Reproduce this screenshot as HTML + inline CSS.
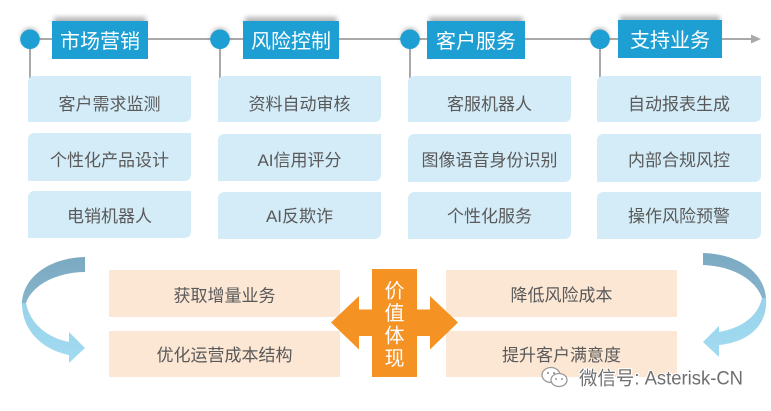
<!DOCTYPE html>
<html><head><meta charset="utf-8">
<style>
html,body{margin:0;padding:0;background:#fff;}
svg{display:block;}
text{font-family:"Liberation Sans","Noto Sans CJK SC",sans-serif;}
</style></head>
<body>
<svg width="771" height="411" viewBox="0 0 771 411" xmlns="http://www.w3.org/2000/svg">
<defs>
<filter id="blur" x="-20%" y="-100%" width="140%" height="300%"><feGaussianBlur stdDeviation="2.5"/></filter>
<linearGradient id="gd" x1="0" y1="0" x2="0" y2="1"><stop offset="0" stop-color="#7aa9c2"/><stop offset="1" stop-color="#86b4ca"/></linearGradient>
<linearGradient id="gl" x1="0" y1="0" x2="0" y2="1"><stop offset="0" stop-color="#98d3ea"/><stop offset="1" stop-color="#a2dbf1"/></linearGradient>
</defs>
<rect width="771" height="411" fill="#fff"/>

<!-- timeline -->
<line x1="30" y1="39" x2="754" y2="39" stroke="#a9a9a9" stroke-width="2"/>
<polygon points="751,34.5 761,39 751,43.5" fill="#a9a9a9"/>

<!-- vertical connectors -->
<g stroke="#a9a9a9" stroke-width="2">
<line x1="30" y1="39" x2="30" y2="80"/>
<line x1="220" y1="39" x2="220" y2="80"/>
<line x1="410" y1="39" x2="410" y2="80"/>
<line x1="600" y1="39" x2="600" y2="80"/>
</g>

<!-- shadows -->
<g fill="#000" opacity="0.28" filter="url(#blur)">
<rect x="54" y="17" width="92" height="10"/>
<rect x="245" y="17" width="92" height="10"/>
<rect x="429" y="17" width="94" height="10"/>
<rect x="620" y="16" width="100" height="10"/>
<circle cx="30" cy="37" r="9"/>
<circle cx="220" cy="37" r="9"/>
<circle cx="410" cy="37" r="9"/>
<circle cx="600" cy="37" r="9"/>
</g>

<!-- circles -->
<g fill="#1e9fd4">
<circle cx="30" cy="39.3" r="9.8"/>
<circle cx="220" cy="39.3" r="9.8"/>
<circle cx="410" cy="39.3" r="9.8"/>
<circle cx="600" cy="39.3" r="9.8"/>
</g>

<!-- title boxes -->
<g fill="#1e9fd4">
<rect x="52" y="21" width="96" height="38"/>
<rect x="243" y="21" width="96" height="38"/>
<rect x="427" y="21" width="98" height="38"/>
<rect x="618" y="20" width="104" height="38"/>
</g>
<g fill="#fff" font-size="20" text-anchor="middle">
<text x="100" y="48">市场营销</text>
<text x="291" y="48">风险控制</text>
<text x="476" y="48">客户服务</text>
<text x="670" y="47">支持业务</text>
</g>

<!-- detail boxes -->
<g fill="#d3ecf8">
<path d="M35,76 L191,76 L191,115 Q191,122 184,122 L28,122 L28,83 Q28,76 35,76 Z"/>
<path d="M35,133 L191,133 L191,174 Q191,181 184,181 L28,181 L28,140 Q28,133 35,133 Z"/>
<path d="M35,191 L191,191 L191,231 Q191,238 184,238 L28,238 L28,198 Q28,191 35,191 Z"/>

<path d="M225,76 L381,76 L381,115 Q381,122 374,122 L218,122 L218,83 Q218,76 225,76 Z"/>
<path d="M225,134 L381,134 L381,174 Q381,181 374,181 L218,181 L218,141 Q218,134 225,134 Z"/>
<path d="M225,192 L381,192 L381,232 Q381,239 374,239 L218,239 L218,199 Q218,192 225,192 Z"/>

<path d="M415,76 L571,76 L571,115 Q571,122 564,122 L408,122 L408,83 Q408,76 415,76 Z"/>
<path d="M415,134 L571,134 L571,175 Q571,182 564,182 L408,182 L408,141 Q408,134 415,134 Z"/>
<path d="M415,192 L571,192 L571,232 Q571,239 564,239 L408,239 L408,199 Q408,192 415,192 Z"/>

<path d="M604,76 L761,76 L761,115 Q761,122 754,122 L597,122 L597,83 Q597,76 604,76 Z"/>
<path d="M604,134 L761,134 L761,175 Q761,182 754,182 L597,182 L597,141 Q597,134 604,134 Z"/>
<path d="M604,192 L761,192 L761,232 Q761,239 754,239 L597,239 L597,199 Q597,192 604,192 Z"/>
</g>
<g fill="#595959" font-size="17" text-anchor="middle">
<text x="109.5" y="110">客户需求监测</text>
<text x="109.5" y="166">个性化产品设计</text>
<text x="109.5" y="222">电销机器人</text>

<text x="299.5" y="110">资料自动审核</text>
<text x="299.5" y="166">AI信用评分</text>
<text x="299.5" y="222">AI反欺诈</text>

<text x="489.5" y="110">客服机器人</text>
<text x="489.5" y="166">图像语音身份识别</text>
<text x="489.5" y="222">个性化服务</text>

<text x="679" y="110">自动报表生成</text>
<text x="679" y="166">内部合规风控</text>
<text x="679" y="222">操作风险预警</text>
</g>

<!-- peach boxes -->
<g fill="#fce6d4">
<rect x="109" y="270" width="231" height="47"/>
<rect x="109" y="331" width="231" height="46"/>
<rect x="446" y="270" width="231" height="47"/>
<rect x="446" y="331" width="231" height="46"/>
</g>
<g fill="#595959" font-size="17" text-anchor="middle">
<text x="224.5" y="301.5">获取增量业务</text>
<text x="224.5" y="361">优化运营成本结构</text>
<text x="561.5" y="301">降低风险成本</text>
<text x="561.5" y="361">提升客户满意度</text>
</g>

<!-- orange center -->
<g fill="#f49224">
<rect x="372" y="269" width="45" height="108"/>
<path d="M331,322.5 L359,296 L359,309.5 L430,309.5 L430,296 L458,322.5 L430,349.5 L430,336 L359,336 L359,349.5 Z"/>
</g>
<g fill="#fff" font-size="20" text-anchor="middle">
<text x="394.5" y="297.5">价</text>
<text x="394.5" y="320">值</text>
<text x="394.5" y="342.5">体</text>
<text x="394.5" y="365">现</text>
</g>

<!-- left curved arrow -->
<path d="M85,257 C48,258 23,278 22,303 L26,303 C32,285 57,272 85,272 Z" fill="url(#gd)"/>
<path d="M22,303 C22,332 44,350 69,355 L69,363 L85,348 L69,332 L69,342 C48,338 30,324 26,303 Z" fill="url(#gl)"/>

<!-- right curved arrow -->
<path d="M703,253 C738,254 764,272 766,298 L762,298 C756,280 733,266 703,265 Z" fill="url(#gd)"/>
<path d="M766,298 C768,326 748,342 719,345 L719,357 L703,342 L719,326 L719,332 C742,328 758,316 762,298 Z" fill="url(#gl)"/>

<!-- watermark -->
<g stroke="#9a9a9a" stroke-width="1.3" fill="#fff">
<ellipse cx="551" cy="375" rx="9" ry="7.5"/>
<ellipse cx="559" cy="380" rx="8" ry="6.5"/>
</g>
<g fill="#9a9a9a">
<circle cx="548" cy="373" r="1.1"/>
<circle cx="554" cy="373" r="1.1"/>
<circle cx="556" cy="379" r="1"/>
<circle cx="562" cy="379" r="1"/>
</g>
<text x="579" y="384.5" font-size="19" fill="#6f6f6f" stroke="#ffffff" stroke-width="2" paint-order="stroke" textLength="164" lengthAdjust="spacingAndGlyphs">微信号: Asterisk-CN</text>
</svg>
</body></html>
